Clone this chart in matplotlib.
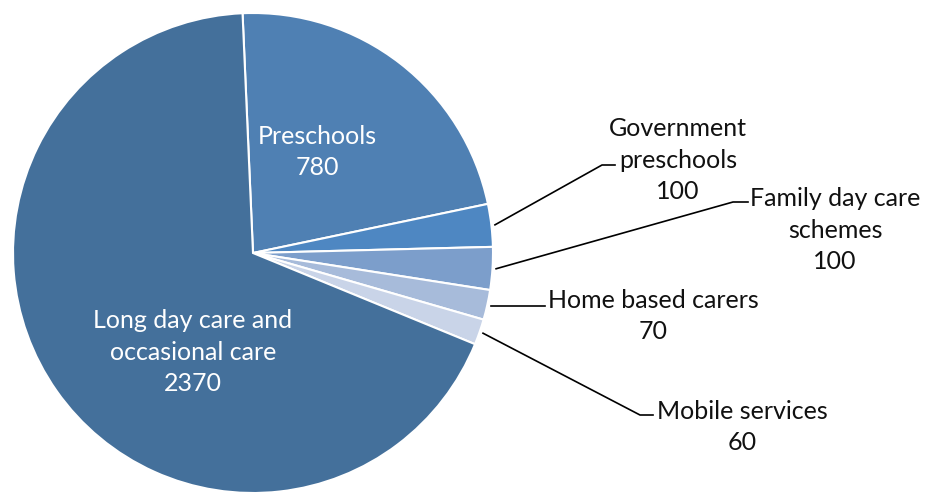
import matplotlib
matplotlib.use("Agg")
import matplotlib.pyplot as plt
import numpy as np
from matplotlib.lines import Line2D

categories = ["Preschools", "Government\npreschools", "Family day care\nschemes",
              "Home based carers", "Mobile services", "Long day care and\noccasional care"]
values = [780, 100, 100, 70, 60, 2370]
colors = ["#4F80B3", "#4E87C2", "#7C9ECB", "#A7BBDA", "#C9D4E8", "#44709B"]

W, H = 935, 497
fig = plt.figure(figsize=(W / 100, H / 100), dpi=100)
cx, cy, R = 253, 253, 240
ax = fig.add_axes([(cx - R) / W, (H - cy - R) / H, 2 * R / W, 2 * R / H])
plt.rcParams['font.family'] = ['Lato', 'DejaVu Sans']

start = 92.5
wedges, _ = ax.pie(values, colors=colors, startangle=start, counterclock=False,
                   radius=1.0, wedgeprops=dict(edgecolor="white", linewidth=1.5))
ax.set_xlim(-1, 1)
ax.set_ylim(-1, 1)
ax.set_aspect("equal")
ax.axis("off")

def p2d(px, py):
    return (px - cx) / R, (cy - py) / R

fs = 18
ls = 1.45
# inside labels
x, y = p2d(317, 152)
ax.text(x, y, f"{categories[0]}\n{values[0]}", color="white", ha="center", va="center",
        fontsize=fs, linespacing=ls)
x, y = p2d(193, 352)
ax.text(x, y, f"{categories[5]}\n{values[5]}", color="white", ha="center", va="center",
        fontsize=fs, linespacing=ls)

# outside labels with leader lines
layout = {
    1: dict(path=[(602, 165), (615, 165)], text=(678, 160)),
    2: dict(path=[(733, 202), (748, 202)], text=(835, 230)),
    3: dict(path=[(545, None)], text=(653, 316)),
    4: dict(path=[(640, 415), (653, 415)], text=(742, 427)),
}
for i, lay in layout.items():
    w = wedges[i]
    mid = np.deg2rad((w.theta1 + w.theta2) / 2)
    sx, sy = 1.015 * np.cos(mid), 1.015 * np.sin(mid)
    pts = [(sx, sy)]
    for px, py in lay["path"]:
        if py is None:
            pts.append((p2d(px, 0)[0], sy))
        else:
            pts.append(p2d(px, py))
    xs, ys = zip(*pts)
    ax.add_line(Line2D(xs, ys, color="black", lw=1.2, clip_on=False))
    tx, ty = p2d(*lay["text"])
    ax.text(tx, ty, f"{categories[i]}\n{values[i]}", color="#111111", ha="center",
            va="center", fontsize=fs, linespacing=ls, clip_on=False)

fig.savefig("out.png", dpi=100)
